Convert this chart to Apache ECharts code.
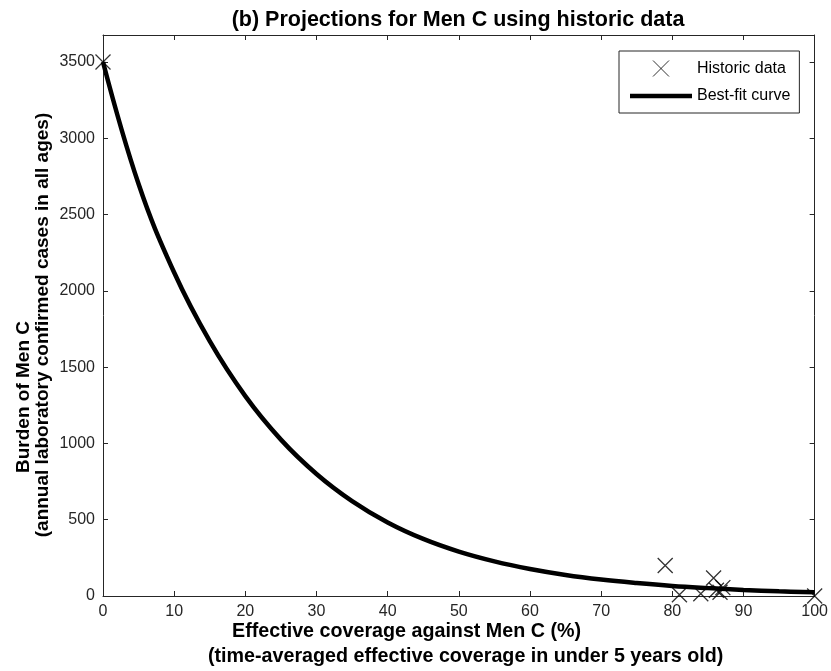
<!DOCTYPE html>
<html>
<head>
<meta charset="utf-8">
<script src="https://cdn.jsdelivr.net/npm/echarts@6/dist/echarts.min.js"></script>
<style>
  html, body { margin: 0; padding: 0; background: #fff; }
  #chart { width: 831px; height: 671px; }
</style>
</head>
<body>
<div id="chart"></div>
<script>
// Best-fit curve: burden of Men C against effective coverage (%)
const fitCoverage = [0, 5, 10, 15, 20, 25, 30, 35, 40, 45, 50, 55, 60, 65, 70, 75, 80, 85, 90, 95, 100];
const fitBurden   = [3500, 2700, 2120, 1670, 1310, 1025, 800, 622, 482, 374, 291, 227, 177, 138, 108, 85, 66, 52, 40, 31, 24];

// Historic observations
const histCoverage = [0, 79, 81, 84, 85.8, 86.2, 86.7, 87.1, 100];
const histBurden   = [3500, 200, 8, 15, 118, 38, 25, 55, 0];

const FONT = '"Liberation Sans", Arial, Helvetica, sans-serif';
const AXIS_COLOR = '#262626';
const CROSS = 'path://M0,0L10,10M10,0L0,10';
const BAR = 'path://M0,0H62V4.5H0Z';

const fitData = fitCoverage.map((x, i) => [x, fitBurden[i]]);
const histData = histCoverage.map((x, i) => [x, histBurden[i]]);

const chart = echarts.init(document.getElementById('chart'), null, { renderer: 'canvas' });

const axisCommon = {
  axisLine: { show: true, onZero: false, lineStyle: { color: AXIS_COLOR, width: 1 } },
  axisTick: { show: true, inside: true, length: 5, lineStyle: { color: AXIS_COLOR, width: 1 } },
  splitLine: { show: false }
};

const plain = v => String(v);

chart.setOption({
  backgroundColor: '#fff',
  animation: false,
  textStyle: { fontFamily: FONT },
  title: {
    text: '(b) Projections for Men C using historic data',
    left: 453,
    top: 4,
    textAlign: 'center',
    textStyle: { fontFamily: FONT, fontSize: 21.5, fontWeight: 'bold', color: '#000' }
  },
  grid: { left: 103, right: 16, top: 35, bottom: 75, containLabel: false },
  legend: {
    orient: 'vertical',
    left: 619,
    top: 51,
    padding: [9, 9, 9, 11],
    itemGap: 11,
    itemWidth: 62,
    itemHeight: 16,
    borderColor: AXIS_COLOR,
    borderWidth: 1,
    borderRadius: 0,
    backgroundColor: '#fff',
    textStyle: { fontFamily: FONT, fontSize: 16, color: '#000' },
    itemStyle: { borderWidth: 1 },
    data: [
      { name: 'Historic data' },
      { name: 'Best-fit curve', icon: BAR, itemStyle: { borderWidth: 0 } }
    ]
  },
  xAxis: [
    Object.assign({
      type: 'value', position: 'bottom', min: 0, max: 100, interval: 10,
      axisLabel: { fontFamily: FONT, fontSize: 16, color: AXIS_COLOR, margin: 8, formatter: plain }
    }, axisCommon),
    Object.assign({
      type: 'value', position: 'top', min: 0, max: 100, interval: 10,
      axisLabel: { show: false }
    }, axisCommon)
  ],
  yAxis: [
    Object.assign({
      type: 'value', position: 'left', min: 0, max: 3677, interval: 500,
      axisLabel: { fontFamily: FONT, fontSize: 16, color: AXIS_COLOR, margin: 8, showMaxLabel: false, formatter: plain }
    }, axisCommon),
    Object.assign({
      type: 'value', position: 'right', min: 0, max: 3677, interval: 500,
      axisLabel: { show: false }
    }, axisCommon)
  ],
  series: [
    {
      name: 'Best-fit curve',
      type: 'line',
      data: fitData,
      smooth: 0.4,
      showSymbol: false,
      symbol: 'none',
      lineStyle: { color: '#000', width: 4.5 },
      itemStyle: { color: '#000' },
      z: 2
    },
    {
      name: 'Historic data',
      type: 'scatter',
      data: histData,
      symbol: CROSS,
      symbolSize: 15,
      clip: false,
      itemStyle: { color: 'rgba(0,0,0,0)', borderColor: '#000', borderWidth: 1.3 },
      z: 3
    }
  ],
  graphic: [
    {
      type: 'text', left: 232, top: 622,
      style: { text: 'Effective coverage against Men C (%)', font: 'bold 19.7px ' + FONT, fill: '#000' }
    },
    {
      type: 'text', left: 208, top: 647,
      style: { text: '(time-averaged effective coverage in under 5 years old)', font: 'bold 19.7px ' + FONT, fill: '#000' }
    },
    {
      type: 'text', x: 24, y: 397, rotation: Math.PI / 2,
      style: { text: 'Burden of Men C', font: 'bold 19px ' + FONT, fill: '#000', align: 'center', verticalAlign: 'middle' }
    },
    {
      type: 'text', x: 43, y: 325, rotation: Math.PI / 2,
      style: { text: '(annual laboratory confirmed cases in all ages)', font: 'bold 19px ' + FONT, fill: '#000', align: 'center', verticalAlign: 'middle' }
    }
  ]
});
</script>
</body>
</html>
